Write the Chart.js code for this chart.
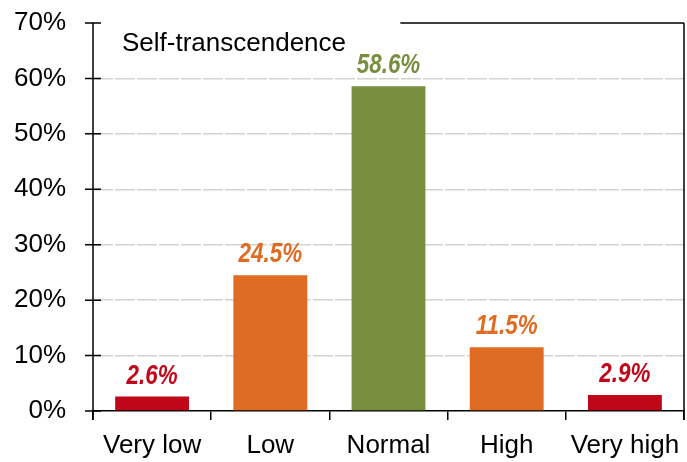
<!DOCTYPE html>
<html lang="en">
<head>
<meta charset="UTF-8">
<title>Self-transcendence</title>
<script src="https://cdn.jsdelivr.net/npm/chart.js@4.4.1/dist/chart.umd.min.js"></script>
<style>
  html, body { margin: 0; padding: 0; background: #fff; }
  #wrap { width: 687px; height: 462px; }
</style>
</head>
<body>
<div id="wrap"><canvas id="myChart" width="687" height="462"></canvas></div>
<script>
// data
const categories = ["Very low", "Low", "Normal", "High", "Very high"];
const percentages = [2.6, 24.5, 58.6, 11.5, 2.9];
const barColors = ["#C0071A", "#E06B23", "#788F3F", "#E06B23", "#C0071A"];
const chartTitle = "Self-transcendence";

const FONT = "'Liberation Sans', Arial, sans-serif";

// axis lines, crossing y ticks, partial top border, title and value labels
const decorations = {
  id: "decorations",
  afterDraw(chart) {
    const ctx = chart.ctx;
    const area = chart.chartArea;
    const y = chart.scales.y;
    ctx.save();
    ctx.strokeStyle = "#000";
    ctx.lineWidth = 1.5;
    ctx.beginPath();
    // left axis
    ctx.moveTo(area.left, area.top);
    ctx.lineTo(area.left, area.bottom + 9);
    // right border
    ctx.moveTo(area.right, area.top);
    ctx.lineTo(area.right, area.bottom + 9);
    // partial top border
    ctx.moveTo(area.left + (area.right - area.left) * 0.52, area.top);
    ctx.lineTo(area.right, area.top);
    // y ticks
    y.ticks.forEach(t => {
      const py = y.getPixelForValue(t.value);
      ctx.moveTo(area.left - 8, py);
      ctx.lineTo(area.left + 8, py);
    });
    ctx.stroke();

    // title
    ctx.fillStyle = "#000";
    ctx.font = "26px " + FONT;
    ctx.textAlign = "left";
    ctx.textBaseline = "alphabetic";
    ctx.fillText(chartTitle, area.left + 29, area.top + 28);

    // value labels (condensed bold italic)
    const meta = chart.getDatasetMeta(0);
    ctx.font = "italic bold 28px " + FONT;
    ctx.textAlign = "center";
    meta.data.forEach((bar, i) => {
      ctx.save();
      ctx.translate(bar.x, bar.y - 13);
      ctx.scale(0.8, 1);
      ctx.fillStyle = barColors[i];
      ctx.fillText(percentages[i].toFixed(1) + "%", 0, 0);
      ctx.restore();
    });
    ctx.restore();
  }
};

const ctx = document.getElementById("myChart").getContext("2d");
const myChart = new Chart(ctx, {
  type: "bar",
  data: {
    labels: categories,
    datasets: [{
      data: percentages,
      backgroundColor: barColors,
      borderWidth: 0,
      barPercentage: 0.625,
      categoryPercentage: 1
    }]
  },
  options: {
    responsive: false,
    animation: false,
    layout: { padding: { top: 23, right: 3, left: 0, bottom: 0 } },
    plugins: {
      legend: { display: false },
      tooltip: { enabled: false },
      title: { display: false }
    },
    scales: {
      y: {
        min: 0,
        max: 70,
        afterFit(scale) {
          scale.width = 93;
          scale.paddingTop = 0;
          scale.paddingBottom = 0;
        },
        ticks: {
          stepSize: 10,
          padding: 27,
          color: "#000",
          font: { family: FONT, size: 26 },
          callback: v => v + "%"
        },
        grid: {
          drawTicks: false,
          color: c => (c.tick.value === 0 || c.tick.value === 70) ? "rgba(0,0,0,0)" : "#d2d2d2",
          lineWidth: 1.5
        },
        border: { display: false, dash: [20, 2] }
      },
      x: {
        afterFit(scale) {
          scale.height = 51;
          scale.paddingLeft = 0;
          scale.paddingRight = 0;
        },
        ticks: {
          padding: 10,
          color: "#000",
          font: { family: FONT, size: 26 }
        },
        grid: {
          offset: true,
          drawOnChartArea: false,
          color: "#000",
          lineWidth: 1.5,
          tickLength: 9
        },
        border: { display: true, color: "#000", width: 1.5 }
      }
    }
  },
  plugins: [decorations]
});
</script>
</body>
</html>
